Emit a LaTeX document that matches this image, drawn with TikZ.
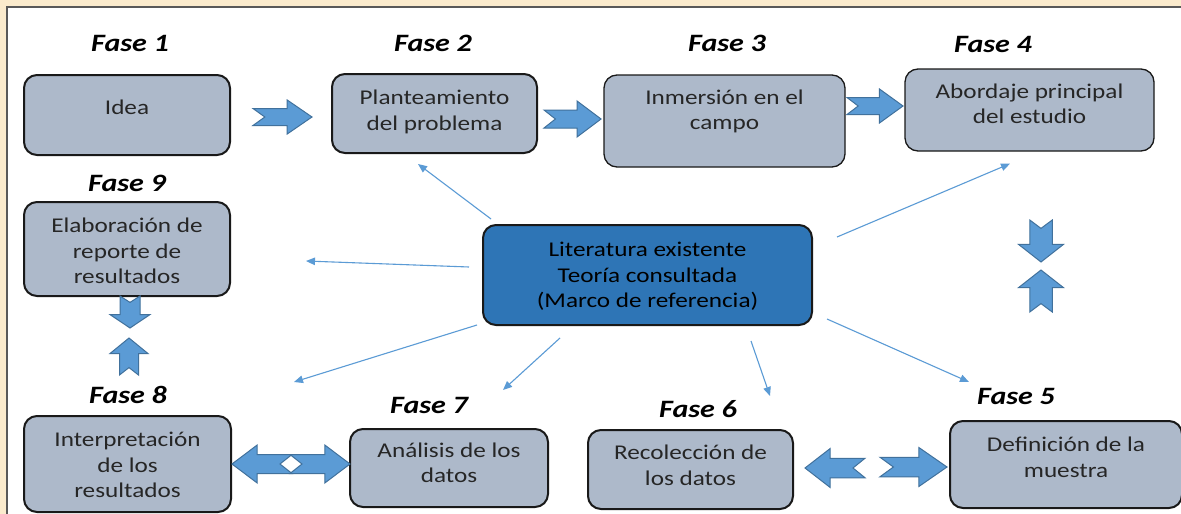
\documentclass[tikz,border=0pt]{standalone}
\usepackage{fontspec}
\setmainfont{Carlito}[FakeStretch=1.2]
\usepackage{tikz}
\usetikzlibrary{arrows.meta}

\definecolor{boxgray}{RGB}{173,185,202}
\definecolor{litblue}{RGB}{46,117,182}
\definecolor{arrowblue}{RGB}{91,155,213}
\definecolor{arrowedge}{RGB}{65,113,156}
\definecolor{paper}{RGB}{251,235,205}

\newcommand{\liftbox}[2]{\raisebox{#1}[\height][\depth]{\begin{tabular}{@{}c@{}}#2\end{tabular}}}

\begin{document}
\begin{tikzpicture}[x=1pt,y=-1pt,
	phase/.style={draw=black!90,line width=2pt,rounded corners=13pt,fill=boxgray,text=black!85,inner sep=0pt,font=\fontsize{21}{25.6}\selectfont},
	fase/.style={font=\fontsize{25}{30}\selectfont\bfseries\itshape,inner sep=0pt},
	link/.style={draw=arrowblue,line width=1.1pt,-{Triangle[length=9pt,width=7.5pt]}},
	blockarrow/.style={fill=arrowblue,draw=arrowedge,line width=1pt,line join=miter},
	notched/.pic={\path[blockarrow] (0,-0.25) -- (0.58,-0.25) -- (0.58,-0.5) -- (1,0) -- (0.58,0.5) -- (0.58,0.25) -- (0,0.25) -- (0.2,0) -- cycle;}]
	\useasboundingbox (0,0) rectangle (1181,514);
	\fill[paper] (0,0) rectangle (1181,514);
	\fill[white] (7,7) rectangle (1181,514);
	\draw[black!65,line width=2pt] (7,520) -- (7,7) -- (1181,7);

	\node[phase,minimum width=206pt,minimum height=80pt] (f1) at (127,115) {\liftbox{6pt}{Idea}};
	\node[phase,minimum width=205pt,minimum height=79pt] (f2) at (434.5,113.5) {\liftbox{1pt}{Planteamiento\\del problema}};
	\node[phase,line width=1.3pt,minimum width=241pt,minimum height=92pt] (f3) at (724.5,121) {\liftbox{9pt}{Inmersión en el\\campo}};
	\node[phase,line width=1.3pt,minimum width=249pt,minimum height=82pt] (f4) at (1029.5,110) {\liftbox{4pt}{Abordaje principal\\del estudio}};
	\node[phase,minimum width=206pt,minimum height=94pt] (f9) at (127,249) {\liftbox{-4pt}{Elaboración de\\reporte de\\resultados}};
	\node[phase,fill=litblue,text=black,minimum width=329pt,minimum height=100pt] (lit) at (647.5,275) {\liftbox{-2pt}{Literatura existente\\Teoría consultada\\(Marco de referencia)}};
	\node[phase,minimum width=207pt,minimum height=96pt] (f8) at (127.5,464) {\liftbox{-3pt}{Interpretación\\de los\\resultados}};
	\node[phase,minimum width=198pt,minimum height=78pt] (f7) at (449,468) {\liftbox{3pt}{Análisis de los\\datos}};
	\node[phase,minimum width=205pt,minimum height=79pt] (f6) at (690.5,469.5) {\liftbox{2pt}{Recolección de\\los datos}};
	\node[phase,minimum width=232pt,minimum height=87pt] (f5) at (1066,464.5) {\liftbox{5pt}{Definición de la\\muestra}};

	\node[fase] (l1) at (130,43) {Fase 1};
	\node[fase] (l2) at (433,43) {Fase 2};
	\node[fase] (l3) at (727,43) {Fase 3};
	\node[fase] (l4) at (993,44) {Fase 4};
	\node[fase] (l5) at (1016,396) {Fase 5};
	\node[fase] (l6) at (698,409) {Fase 6};
	\node[fase] (l7) at (429,405) {Fase 7};
	\node[fase] (l8) at (128,395) {Fase 8};
	\node[fase] (l9) at (127,183) {Fase 9};

	\draw[link] ([xshift=9pt,yshift=5pt]lit.north west) -- ([xshift=-16.5pt,yshift=-10pt]f2.south);
	\draw[link] ([xshift=24pt,yshift=-13pt]lit.north east) -- ([xshift=-19.5pt,yshift=-12pt]f4.south);
	\draw[link] ([xshift=-13pt,yshift=8pt]lit.west) -- ([xshift=75pt,yshift=-12pt]f9.east);
	\draw[link] ([xshift=-5pt,yshift=1pt]lit.south west) -- ([xshift=62pt,yshift=33pt]f8.north east);
	\draw[link] ([xshift=-87.5pt,yshift=-12pt]lit.south) -- ([xshift=54pt,yshift=38pt]f7.north);
	\draw[link] ([xshift=103.5pt,yshift=-15pt]lit.south) -- ([xshift=79.5pt,yshift=33pt]f6.north);
	\draw[link] ([xshift=14pt,yshift=7pt]lit.south east) -- ([xshift=20pt,yshift=38pt]f5.north west);

	\pic[xscale=59,yscale=34] at (253,117) {notched};
	\pic[xscale=57,yscale=36] at (544,119) {notched};
	\pic[xscale=56,yscale=34] at (847,106) {notched};
	\pic[rotate=-90,xscale=42,yscale=45] at (1041,220) {notched};
	\pic[rotate=90,xscale=42,yscale=45] at (1041,312) {notched};
	\pic[rotate=-90,xscale=32,yscale=40] at (130,296) {notched};
	\pic[rotate=90,xscale=37,yscale=38] at (129,375) {notched};
	\pic[rotate=180,xscale=60,yscale=38] at (292,464) {notched};
	\pic[xscale=60,yscale=38] at (290,464) {notched};
	\pic[rotate=180,xscale=60,yscale=39] at (865,468) {notched};
	\pic[xscale=67,yscale=39] at (880,467) {notched};
\end{tikzpicture}
\end{document}
